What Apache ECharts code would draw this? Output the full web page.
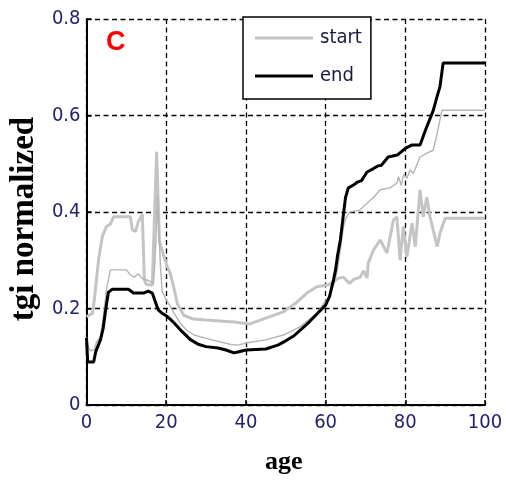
<!DOCTYPE html>
<html>
<head>
<meta charset="utf-8">
<script src="https://cdn.jsdelivr.net/npm/echarts@6/dist/echarts.min.js"></script>
<style>
  html, body { margin: 0; padding: 0; background: #fff; }
  #chart { width: 506px; height: 480px; }
</style>
</head>
<body>
<div id="chart"></div>
<script>
/* tick values */
var xTicks = [0, 20, 40, 60, 80, 100];
var yTicks = [0, 0.2, 0.4, 0.6, 0.8];

/* start (thick light grey) [age, tgi] */
var startData = [
	[0, 0.183], [1.5, 0.19], [2, 0.22], [3, 0.30], [4, 0.35], [5, 0.37], [6, 0.375], [6.8, 0.39],
	[11, 0.39], [11.5, 0.363], [12.3, 0.36], [13, 0.38], [14, 0.395], [14.3, 0.32], [14.5, 0.26],
	[15, 0.25], [16.5, 0.248], [17, 0.25], [17.3, 0.45], [17.6, 0.525], [18, 0.525], [18.3, 0.34],
	[19, 0.32], [20.3, 0.286], [21, 0.273], [22, 0.24], [22.8, 0.21], [24.4, 0.186], [26.8, 0.178],
	[30, 0.176], [37, 0.172], [41, 0.168], [46, 0.183], [49.4, 0.193], [52.8, 0.213], [55.3, 0.232],
	[57.8, 0.245], [60.6, 0.249], [62, 0.255], [63, 0.262], [64.4, 0.265], [66, 0.252], [67, 0.26],
	[68.7, 0.265], [69.5, 0.278], [70.4, 0.263], [70.7, 0.294], [72, 0.321], [73.7, 0.342],
	[75.4, 0.315], [77, 0.383], [77.9, 0.39], [78.7, 0.30], [79.5, 0.37], [80.4, 0.307],
	[81.7, 0.377], [82.5, 0.328], [83.7, 0.446], [84.5, 0.39], [85.4, 0.431], [86.2, 0.39],
	[88, 0.328], [88.7, 0.356], [90, 0.387], [100, 0.387]
];

/* end (thick black) */
var endData = [
	[0, 0.139], [0.3, 0.089], [1.8, 0.089], [2.3, 0.11], [3.5, 0.135], [4.2, 0.16], [4.8, 0.197],
	[5.5, 0.234], [6.5, 0.24], [10.5, 0.24], [11.8, 0.232], [14.3, 0.232], [15.5, 0.236], [16.5, 0.232],
	[18, 0.197], [19, 0.19], [20, 0.185], [21, 0.178], [22, 0.17], [24, 0.152],
	[26, 0.136], [28, 0.126], [30, 0.121], [33, 0.118], [35, 0.114], [37, 0.108], [38, 0.11],
	[40, 0.114], [45, 0.116], [48, 0.124], [50, 0.133], [52, 0.143], [54, 0.158], [56, 0.173],
	[58, 0.19], [60, 0.207], [61, 0.225], [62, 0.26], [62.5, 0.28], [63, 0.31], [63.7, 0.342],
	[64.4, 0.39], [65, 0.43], [65.7, 0.45], [67, 0.456], [68, 0.462], [69, 0.465], [70.4, 0.483],
	[72, 0.49], [73, 0.495], [74, 0.497], [75.7, 0.514], [78, 0.518], [80, 0.532], [81.7, 0.539],
	[83.7, 0.539], [85.4, 0.577], [87, 0.61], [88, 0.64], [88.7, 0.66], [89.5, 0.709], [100, 0.709]
];

/* unlabelled thin grey line */
var thinData = [
	[0, 0.14], [0.5, 0.12], [1, 0.112], [2, 0.115], [2.5, 0.13], [3.5, 0.14], [4, 0.17], [4.5, 0.2],
	[5, 0.24], [6, 0.28], [10, 0.28], [11, 0.27], [12, 0.265], [13, 0.272], [14, 0.262],
	[15.5, 0.258], [16.8, 0.252], [17.2, 0.3], [17.8, 0.43], [18.3, 0.43], [18.6, 0.28], [19, 0.235],
	[20, 0.218], [21, 0.205], [22, 0.19], [23.5, 0.17], [25, 0.156], [27, 0.145], [30, 0.138],
	[33, 0.132], [36, 0.126], [38, 0.124], [41, 0.13], [45, 0.135], [49.4, 0.145], [53.6, 0.162],
	[55.5, 0.175], [57.8, 0.19], [59.5, 0.21], [61, 0.225], [62, 0.25], [62.8, 0.273], [63.5, 0.31],
	[64.5, 0.37], [65, 0.385], [66, 0.40], [68.6, 0.404], [70, 0.415], [72, 0.43], [73.7, 0.446],
	[76.2, 0.45], [77.9, 0.46], [78.3, 0.473], [79, 0.455], [79.6, 0.478], [80.4, 0.47], [81.2, 0.487],
	[82, 0.48], [83, 0.50], [83.7, 0.514], [85.4, 0.522], [87, 0.528], [88, 0.563], [89.2, 0.611],
	[100, 0.611]
];

window.onload = function () {
	var chart = echarts.init(document.getElementById('chart'));
	var narrowFont = '"Liberation Sans Narrow", "DejaVu Sans Condensed", "Arial Narrow", sans-serif';
	var tickFont = {
		color: '#23236e',
		fontSize: 20,
		fontFamily: narrowFont
	};
	var gridLine = {
		show: true,
		lineStyle: { color: '#000', width: 1.3, type: [5, 3.5] }
	};
	var option = {
		animation: false,
		backgroundColor: '#fff',
		grid: { left: 86, right: 21, top: 19, bottom: 75 },
		legend: {
			data: [
				{ name: 'start', icon: 'rect', itemStyle: { color: '#c4c4c4' } },
				{ name: 'end', icon: 'rect', itemStyle: { color: '#000' } }
			],
			orient: 'vertical',
			left: 243,
			top: 17,
			itemWidth: 58,
			itemHeight: 3,
			itemGap: 18,
			padding: [11, 9, 13, 12],
			backgroundColor: '#fff',
			borderColor: '#000',
			borderWidth: 1.5,
			borderRadius: 0,
			textStyle: {
				color: '#1a1a40',
				fontSize: 20,
				lineHeight: 20,
				padding: [0, 0, 0, 2],
				fontFamily: narrowFont
			}
		},
		xAxis: {
			type: 'value',
			min: xTicks[0],
			max: xTicks[xTicks.length - 1],
			interval: xTicks[1] - xTicks[0],
			name: 'age',
			nameLocation: 'middle',
			nameGap: 44,
			nameTextStyle: {
				color: '#000', fontSize: 26, fontWeight: 'bold',
				fontFamily: '"Liberation Serif", serif', padding: [0, 4, 0, 0]
			},
			axisLine: { lineStyle: { color: '#000', width: 2 } },
			axisTick: { inside: true, length: 5, lineStyle: { color: '#000', width: 1.5 } },
			axisLabel: Object.assign({ margin: 8 }, tickFont),
			splitLine: gridLine
		},
		yAxis: {
			type: 'value',
			min: yTicks[0],
			max: yTicks[yTicks.length - 1],
			interval: yTicks[1] - yTicks[0],
			name: 'tgi normalized',
			nameLocation: 'middle',
			nameGap: 39,
			nameTextStyle: {
				color: '#000', fontSize: 33, fontWeight: 'bold',
				fontFamily: '"Liberation Serif", serif', padding: [0, 14, 0, 0]
			},
			axisLine: { show: true, lineStyle: { color: '#000', width: 2 } },
			axisTick: { show: true, inside: true, length: 5, lineStyle: { color: '#000', width: 1.5 } },
			axisLabel: Object.assign({ margin: 6 }, tickFont),
			splitLine: gridLine
		},
		graphic: [{
			type: 'text',
			left: 106,
			top: 29,
			style: {
				text: 'C',
				fill: '#ff0000',
				fontSize: 27,
				fontWeight: 'bold',
				fontFamily: '"Liberation Sans", Arial, sans-serif'
			}
		}],
		series: [{
			name: 'start',
			type: 'line',
			symbol: 'none',
			data: startData,
			lineStyle: { color: '#c4c4c4', width: 3 },
			itemStyle: { color: '#c4c4c4' },
			z: 2
		}, {
			name: 'thin',
			type: 'line',
			symbol: 'none',
			data: thinData,
			lineStyle: { color: '#b4b4b4', width: 1.4 },
			itemStyle: { color: '#b4b4b4' },
			z: 3
		}, {
			name: 'end',
			type: 'line',
			symbol: 'none',
			data: endData,
			lineStyle: { color: '#000', width: 3 },
			itemStyle: { color: '#000' },
			z: 4
		}]
	};
	chart.setOption(option);
};
</script>
</body>
</html>
